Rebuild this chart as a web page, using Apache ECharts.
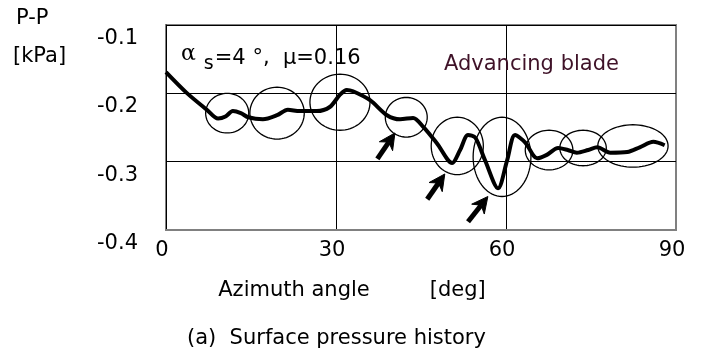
<!DOCTYPE html>
<html>
<head>
<meta charset="utf-8">
<script src="https://cdn.jsdelivr.net/npm/echarts@6/dist/echarts.min.js"></script>
<style>html,body{margin:0;padding:0;background:#fff}#c{width:704px;height:352px}</style>
</head>
<body>
<div id="c"></div>
<script>
// Azimuth angle [deg] vs surface pressure P-P [kPa]
var azimuth = [0, 3.6, 7.2, 9.2, 10.5, 11.8, 13.2, 14.5, 17.1, 19.6, 21.5, 23.6, 26.6, 28.9, 30.7, 31.9, 33.0, 36.0, 39.0, 41.3, 43.6, 45.4, 47.8, 50.5, 51.9, 53.3, 54.6, 56.3, 58.6, 60.2, 61.6, 63.4, 65.5, 67.2, 69.2, 70.9, 72.5, 74.5, 76.1, 78.4, 81.4, 83.6, 86.0, 88.0];
var pressure = [-0.169, -0.199, -0.224, -0.237, -0.234, -0.226, -0.229, -0.235, -0.238, -0.232, -0.224, -0.226, -0.226, -0.220, -0.202, -0.195, -0.197, -0.210, -0.232, -0.238, -0.236, -0.249, -0.273, -0.302, -0.283, -0.261, -0.265, -0.298, -0.339, -0.298, -0.261, -0.272, -0.295, -0.290, -0.280, -0.283, -0.287, -0.283, -0.279, -0.287, -0.286, -0.279, -0.271, -0.276];
// annotation ellipses: [centre angle, centre pressure, half width (deg), half height (kPa)]
var ellipses = [
  [10.8, -0.229, 3.8, 0.029],
  [19.6, -0.229, 4.8, 0.038],
  [30.7, -0.213, 5.3, 0.041],
  [42.4, -0.235, 3.7, 0.029],
  [51.4, -0.277, 4.6, 0.042],
  [59.3, -0.293, 5.1, 0.058],
  [67.6, -0.283, 4.2, 0.029],
  [73.6, -0.280, 4.1, 0.026],
  [82.4, -0.277, 6.2, 0.031]
];
// annotation arrows: [tail angle, tail pressure, tip angle, tip pressure]
var arrows = [
  [37.3, -0.296, 40.4, -0.258],
  [46.1, -0.355, 49.2, -0.318],
  [53.3, -0.388, 56.8, -0.351]
];
var xTicks = [0, 30, 60, 90];
var yTicks = [-0.4, -0.3, -0.2, -0.1];

var FONT = 'DejaVu Sans';
var chart = echarts.init(document.getElementById('c'), null, {renderer: 'canvas'});
var lineData = azimuth.map(function (a, i) { return [a, pressure[i]]; });

chart.setOption({
  animation: false,
  backgroundColor: '#fff',
  title: [
    {text: 'P-P', left: 11, top: 3, textStyle: {fontFamily: FONT, fontSize: 21, fontWeight: 'normal', color: '#000'}},
    {text: '[kPa]', left: 8, top: 41, textStyle: {fontFamily: FONT, fontSize: 21, fontWeight: 'normal', color: '#000'}},
    {text: 'Advancing blade', left: 439, top: 49, textStyle: {fontFamily: FONT, fontSize: 21, fontWeight: 'normal', color: '#3f1228'}},
    {text: '{a|α}{s|s}{m|=4 °,  μ=0.16}', left: 176, top: 38,
      textStyle: {fontFamily: FONT, fontSize: 21, fontWeight: 'normal', color: '#000',
        rich: {
          a: {fontFamily: 'DejaVu Serif', fontSize: 22, color: '#000', padding: [0, 8, 9, 0]},
          s: {fontFamily: FONT, fontSize: 19, color: '#000', padding: [11, 1, 0, 0]},
          m: {fontFamily: FONT, fontSize: 21, color: '#000'}
        }}},
    {text: '(a)  Surface pressure history', left: 182, top: 323, textStyle: {fontFamily: FONT, fontSize: 21, fontWeight: 'normal', color: '#000'}}
  ],
  grid: {left: 166, right: 28, top: 25, bottom: 122, show: true, borderColor: '#808080', borderWidth: 2, backgroundColor: '#fff'},
  xAxis: {
    type: 'value', min: 0, max: 90, interval: 30,
    name: 'Azimuth angle         [deg]', nameLocation: 'middle', nameGap: 50,
    nameTextStyle: {fontFamily: FONT, fontSize: 21, color: '#000', padding: [0, 138, 0, 0]},
    axisLine: {show: true, lineStyle: {color: '#808080', width: 2}},
    axisTick: {show: false},
    splitLine: {show: true, showMaxLine: false, lineStyle: {color: '#000', width: 1}},
    axisLabel: {fontFamily: FONT, fontSize: 21, color: '#000', margin: 10, padding: [0, 8, 0, 0],
      formatter: function (v) { return xTicks.indexOf(v) >= 0 ? String(v) : ''; }}
  },
  yAxis: {
    type: 'value', min: -0.4, max: -0.1, interval: 0.1,
    axisLine: {show: true, lineStyle: {color: '#000', width: 1}},
    axisTick: {show: false},
    splitLine: {show: true, showMinLine: false, lineStyle: {color: '#000', width: 1}},
    axisLabel: {fontFamily: FONT, fontSize: 21, color: '#000', margin: 28, verticalAlign: 'top', padding: [3, 0, 0, 0],
      formatter: function (v) { return v.toFixed(1); }}
  },
  series: [
    {
      type: 'line', data: lineData, symbol: 'none', smooth: 0.3,
      lineStyle: {color: '#000', width: 4}, z: 3
    },
    {
      type: 'custom', coordinateSystem: 'cartesian2d', data: ellipses,
      encode: {x: 0, y: 1}, z: 4, silent: true,
      renderItem: function (params, api) {
        var c = api.coord([api.value(0), api.value(1)]);
        var s = api.size([api.value(2), api.value(3)]);
        var pts = [];
        for (var k = 0; k < 72; k++) {
          var t = k / 72 * Math.PI * 2;
          pts.push([c[0] + s[0] * Math.cos(t), c[1] + s[1] * Math.sin(t)]);
        }
        return {type: 'polygon', shape: {points: pts}, style: {fill: 'none', stroke: '#000', lineWidth: 1.3}};
      }
    },
    {
      type: 'custom', coordinateSystem: 'cartesian2d', data: arrows,
      encode: {x: [0, 2], y: [1, 3]}, z: 5, silent: true,
      renderItem: function (params, api) {
        var p0 = api.coord([api.value(0), api.value(1)]);
        var p1 = api.coord([api.value(2), api.value(3)]);
        var dx = p1[0] - p0[0], dy = p1[1] - p0[1];
        var len = Math.sqrt(dx * dx + dy * dy);
        var ux = dx / len, uy = dy / len, nx = -uy, ny = ux;
        var L = 16, W = 8, notch = 5;
        var base = [p1[0] - ux * (L - notch), p1[1] - uy * (L - notch)];
        return {
          type: 'group',
          children: [
            {type: 'line', shape: {x1: p0[0], y1: p0[1], x2: base[0], y2: base[1]}, style: {stroke: '#000', lineWidth: 5}},
            {type: 'polygon', shape: {points: [
              [p1[0], p1[1]],
              [p1[0] - ux * L + nx * W, p1[1] - uy * L + ny * W],
              base,
              [p1[0] - ux * L - nx * W, p1[1] - uy * L - ny * W]
            ]}, style: {fill: '#000', stroke: '#000', lineWidth: 1}}
          ]
        };
      }
    }
  ]
});
</script>
</body>
</html>
